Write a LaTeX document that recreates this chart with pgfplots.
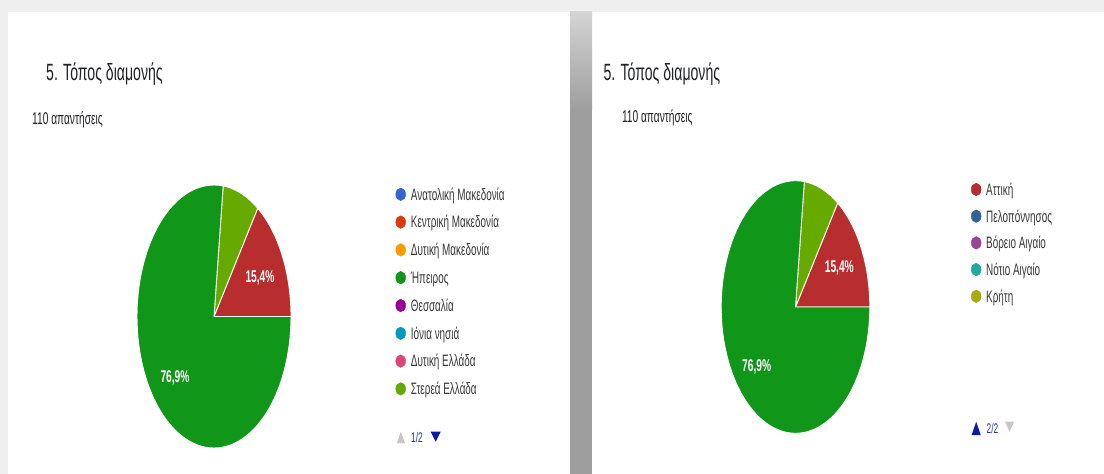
\documentclass[border=0pt]{standalone}
\usepackage{fontspec}
\setmainfont{Liberation Sans}[FakeStretch=0.6]
\usepackage{pgfplots}
\pgfplotsset{compat=1.18}
\definecolor{bgc}{HTML}{EFEFEF}
\definecolor{shA}{HTML}{D4D4D4}
\definecolor{shB}{HTML}{9E9E9E}
\definecolor{titc}{HTML}{202124}
\definecolor{legc}{HTML}{383838}
\definecolor{pagec}{HTML}{2A34A8}
\definecolor{triblue}{HTML}{0A1AA8}
\definecolor{trigray}{HTML}{C8C8C8}
\definecolor{cA}{HTML}{3366CC}
\definecolor{cB}{HTML}{DC3912}
\definecolor{cC}{HTML}{FF9900}
\definecolor{cD}{HTML}{109618}
\definecolor{cE}{HTML}{990099}
\definecolor{cF}{HTML}{0099C6}
\definecolor{cG}{HTML}{DD4477}
\definecolor{cH}{HTML}{66AA00}
\definecolor{cI}{HTML}{B82E2E}
\definecolor{cJ}{HTML}{316395}
\definecolor{cK}{HTML}{994499}
\definecolor{cL}{HTML}{22AA99}
\definecolor{cM}{HTML}{AAAA11}
% slice: cx, cy, rx, ry, start %, end %, colour
\newcommand{\slice}[7]{%
  \addplot[fill=#7, draw=white, line width=0.9pt, domain=#5:#6, samples=90, variable=\t]
    ({#1+#3*cos(3.6*\t)},{#2-#4*sin(3.6*\t)}) -- (axis cs:#1,#2) -- cycle;}
\newcommand{\legmark}[3]{%
  \addplot[only marks, mark=*, mark size=6.3pt, color=#3, mark options={xscale=0.78, fill=#3, draw=#3}]
    coordinates {(#1,#2)};}
\newcommand{\legtext}[3]{%
  \node[anchor=base west, inner sep=0pt, text=legc, font=\fontsize{16.5}{16.5}\selectfont] at (axis cs:#1,#2+5.8) {#3};}
\begin{document}
\begin{tikzpicture}
\fill[bgc] (0pt,0pt) rectangle (1104pt,474pt);
\fill[white] (8pt,0pt) rectangle (570pt,462pt);
\fill[white] (592pt,0pt) rectangle (1104pt,462pt);
\shade[top color=shA, bottom color=shB] (570pt,364pt) rectangle (592pt,462pt);
\fill[shB] (570pt,0pt) rectangle (592pt,364.5pt);
\begin{axis}[at={(0pt,0pt)}, anchor=south west, scale only axis,
  width=1104pt, height=474pt, xmin=0, xmax=1104, ymin=0, ymax=474,
  y dir=reverse, hide axis, clip=false]
% ---------------- left panel ----------------
\slice{214}{316.5}{77}{131.5}{0}{15.4}{cI}
\slice{214}{316.5}{77}{131.5}{15.4}{23.1}{cH}
\slice{214}{316.5}{77}{131.5}{23.1}{100}{cD}
\node[text=white, font=\bfseries\fontsize{17}{17}\selectfont] at (axis cs:260,278) {15,4\%};
\node[text=white, font=\bfseries\fontsize{17}{17}\selectfont] at (axis cs:175,378) {76,9\%};
\node[anchor=base west, inner sep=0pt, text=titc, font=\fontsize{23.5}{24}\selectfont] at (axis cs:46,80) {5. Τόπος διαμονής};
\node[anchor=base west, inner sep=0pt, text=titc, font=\fontsize{17}{17}\selectfont] at (axis cs:32,124) {110 απαντήσεις};
\legmark{400.7}{194.3}{cA}
\legmark{400.7}{222.1}{cB}
\legmark{400.7}{249.9}{cC}
\legmark{400.7}{277.7}{cD}
\legmark{400.7}{305.5}{cE}
\legmark{400.7}{333.3}{cF}
\legmark{400.7}{361.1}{cG}
\legmark{400.7}{388.9}{cH}
\legtext{410.7}{194.3}{Ανατολική Μακεδονία}
\legtext{410.7}{222.1}{Κεντρική Μακεδονία}
\legtext{410.7}{249.9}{Δυτική Μακεδονία}
\legtext{410.7}{277.7}{Ήπειρος}
\legtext{410.7}{305.5}{Θεσσαλία}
\legtext{410.7}{333.3}{Ιόνια νησιά}
\legtext{410.7}{361.1}{Δυτική Ελλάδα}
\legtext{410.7}{388.9}{Στερεά Ελλάδα}
\fill[trigray] (axis cs:396.7,443.3) -- (axis cs:405,443.3) -- (axis cs:400.8,431.7) -- cycle;
\node[text=pagec, font=\fontsize{14}{14}\selectfont] at (axis cs:417,437) {1/2};
\fill[triblue] (axis cs:430.7,431.7) -- (axis cs:440.7,431.7) -- (axis cs:435.7,441.7) -- cycle;
% ---------------- right panel ----------------
\slice{795.5}{307}{74.3}{126.3}{0}{15.4}{cI}
\slice{795.5}{307}{74.3}{126.3}{15.4}{23.1}{cH}
\slice{795.5}{307}{74.3}{126.3}{23.1}{100}{cD}
\node[text=white, font=\bfseries\fontsize{17}{17}\selectfont] at (axis cs:839.3,268.3) {15,4\%};
\node[text=white, font=\bfseries\fontsize{17}{17}\selectfont] at (axis cs:756.7,366.7) {76,9\%};
\node[anchor=base west, inner sep=0pt, text=titc, font=\fontsize{23.5}{24}\selectfont] at (axis cs:603.4,80) {5. Τόπος διαμονής};
\node[anchor=base west, inner sep=0pt, text=titc, font=\fontsize{17}{17}\selectfont] at (axis cs:621.8,122.3) {110 απαντήσεις};
\legmark{976.2}{189.5}{cI}
\legmark{976.2}{216.2}{cJ}
\legmark{976.2}{242.9}{cK}
\legmark{976.2}{269.6}{cL}
\legmark{976.2}{296.3}{cM}
\legtext{986}{189.5}{Αττική}
\legtext{986}{216.2}{Πελοπόννησος}
\legtext{986}{242.9}{Βόρειο Αιγαίο}
\legtext{986}{269.6}{Νότιο Αιγαίο}
\legtext{986}{296.3}{Κρήτη}
\fill[triblue] (axis cs:971.7,435) -- (axis cs:980.7,435) -- (axis cs:976.2,421.7) -- cycle;
\node[text=pagec, font=\fontsize{14}{14}\selectfont] at (axis cs:992.5,428) {2/2};
\fill[trigray] (axis cs:1005,421.7) -- (axis cs:1014,421.7) -- (axis cs:1009.5,431.7) -- cycle;
\end{axis}
\end{tikzpicture}
\end{document}
